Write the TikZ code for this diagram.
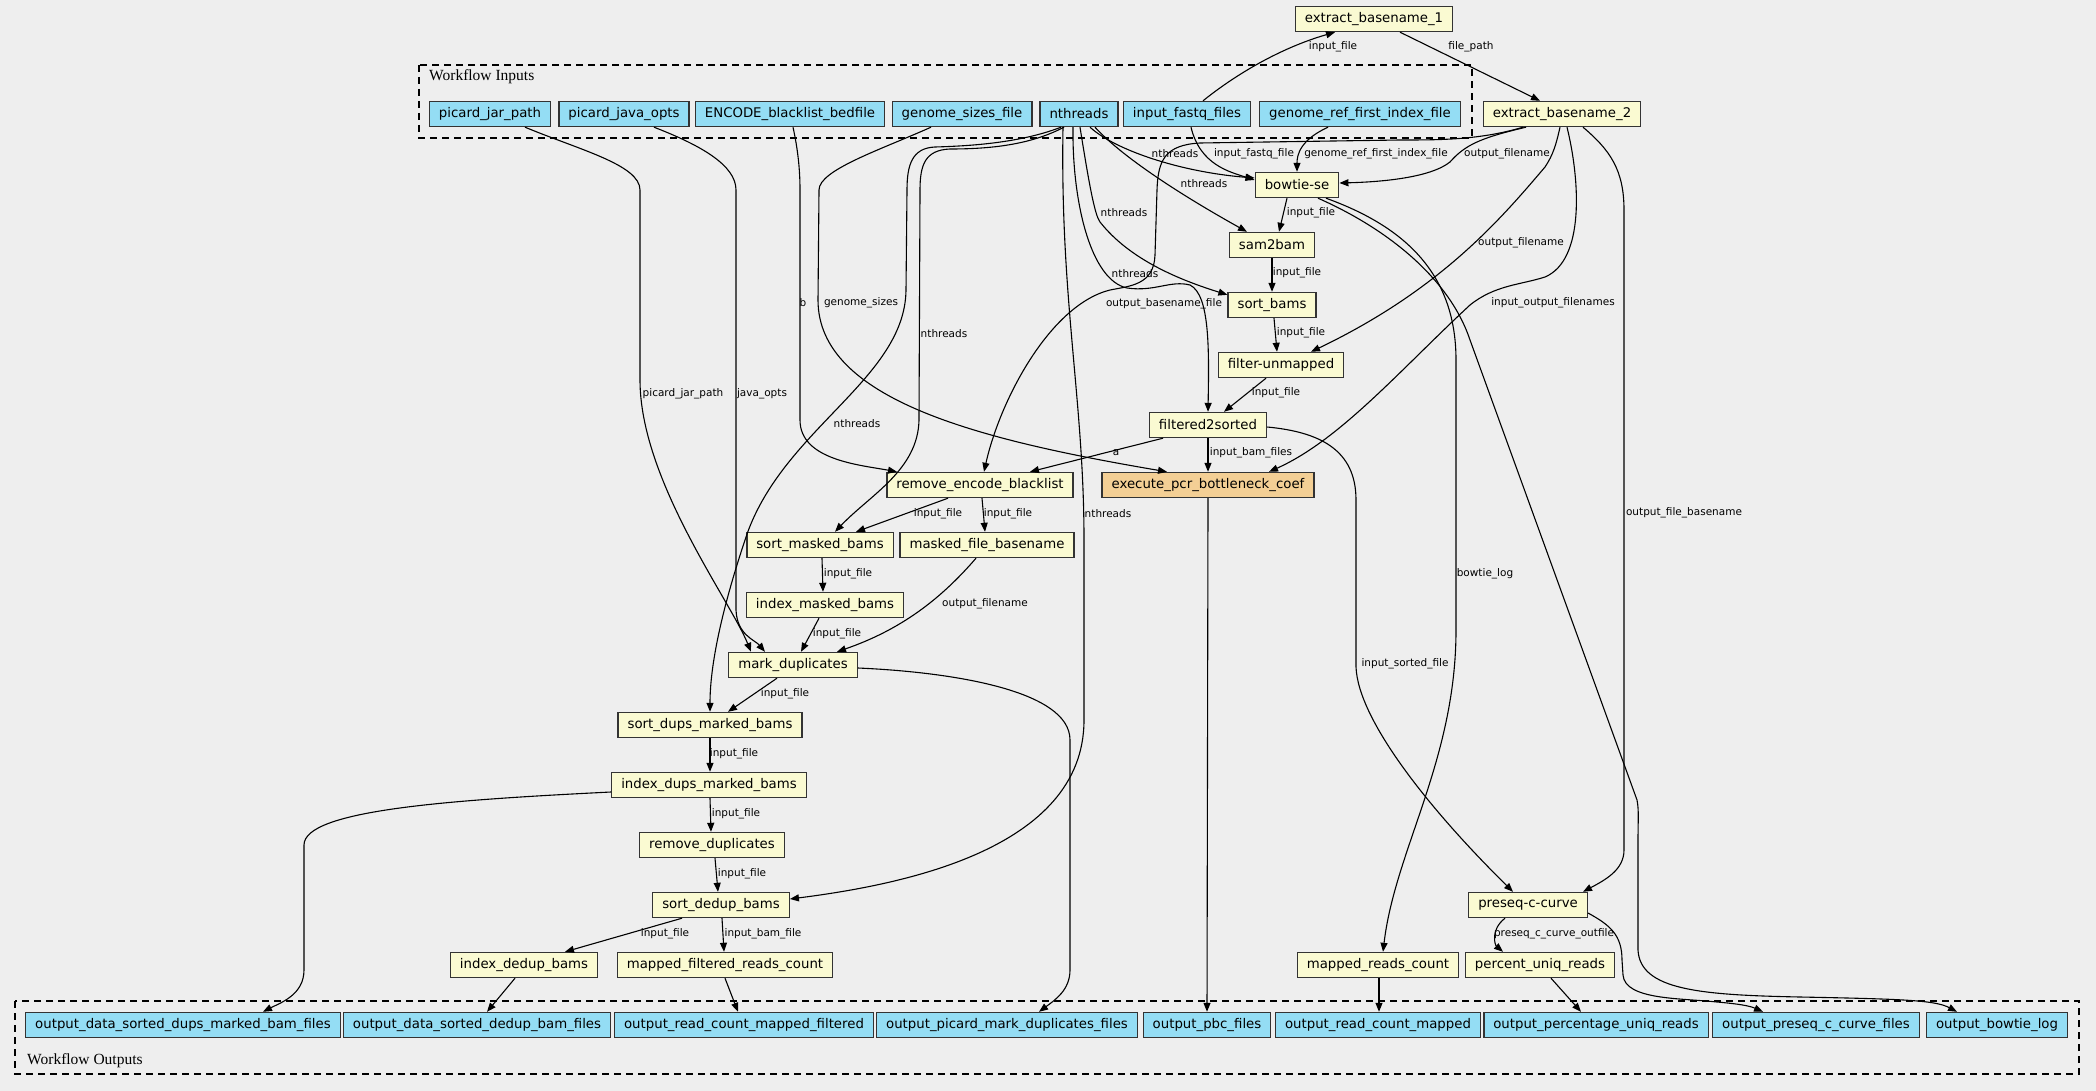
\documentclass[tikz,border=0pt]{standalone}
\usepackage{fontspec}
\usetikzlibrary{arrows.meta}
\newfontfamily\boxfont{DejaVu Sans}
\newfontfamily\clusterfont{Liberation Serif}
\definecolor{bgcol}{HTML}{EEEEEE}
\definecolor{iofill}{HTML}{94DDF4}
\definecolor{stepfill}{HTML}{FAFAD2}
\definecolor{subfill}{HTML}{F3CF95}
\definecolor{boxline}{HTML}{333333}

\begin{document}
\begin{tikzpicture}[x=1pt,y=-1pt,
  basebox/.style={draw=boxline, line width=1.4pt, minimum height=25pt, inner xsep=9.5pt, inner ysep=0pt,
    font=\boxfont\fontsize{13.3}{15}\selectfont},
  inbox/.style={basebox, fill=iofill},
  stepbox/.style={basebox, fill=stepfill},
  wfbox/.style={basebox, fill=subfill},
  lbl/.style={font=\boxfont\fontsize{10.5}{12}\selectfont, inner sep=0.5pt},
  cluster/.style={draw=black, dash pattern=on 7pt off 5pt, line width=1.2pt},
  cllbl/.style={font=\clusterfont\fontsize{15.5}{17}\selectfont, anchor=west, inner sep=0pt},
  flow/.style={-{Triangle[length=9pt,width=7pt]}, line width=1.1pt}]

\fill[bgcol] (0,0) rectangle (2096,1091);
\useasboundingbox (0,0) rectangle (2096,1091);

% clusters
\draw[cluster] (419,65) rectangle (1472,138);
\node[cllbl] (inlbl) at (429,77) {Workflow Inputs};
\draw[cluster] (15,1001) rectangle (2079,1074);
\node[cllbl] (outlbl) at (27,1061) {Workflow Outputs};

% workflow inputs
\node[inbox] (pjar) at (490,114) {picard\_jar\_path};
\node[inbox] (pjava) at (624,114) {picard\_java\_opts};
\node[inbox] (blacklist) at (790,114) {ENCODE\_blacklist\_bedfile};
\node[inbox] (gsizes) at (962,114) {genome\_sizes\_file};
\node[inbox] (nthreads) at (1079,114) {nthreads};
\node[inbox] (fastq) at (1187,114) {input\_fastq\_files};
\node[inbox] (gref) at (1360,114) {genome\_ref\_first\_index\_file};

% steps
\node[stepbox] (eb1) at (1374,19) {extract\_basename\_1};
\node[stepbox] (eb2) at (1562,114) {extract\_basename\_2};
\node[stepbox] (bowtie) at (1297,185) {bowtie-se};
\node[stepbox] (sam2bam) at (1272,245) {sam2bam};
\node[stepbox] (sortbams) at (1272,305) {sort\_bams};
\node[stepbox] (filterun) at (1281,365) {filter-unmapped};
\node[stepbox] (f2s) at (1208,425) {filtered2sorted};
\node[wfbox] (pcr) at (1208,485) {execute\_pcr\_bottleneck\_coef};
\node[stepbox] (rmbl) at (980,485) {remove\_encode\_blacklist};
\node[stepbox] (sortmasked) at (820,545) {sort\_masked\_bams};
\node[stepbox] (maskedbase) at (987,545) {masked\_file\_basename};
\node[stepbox] (idxmasked) at (825,605) {index\_masked\_bams};
\node[stepbox] (markdup) at (793,665) {mark\_duplicates};
\node[stepbox] (sortdups) at (710,725) {sort\_dups\_marked\_bams};
\node[stepbox] (idxdups) at (709,785) {index\_dups\_marked\_bams};
\node[stepbox] (rmdup) at (712,845) {remove\_duplicates};
\node[stepbox] (sortdedup) at (721,905) {sort\_dedup\_bams};
\node[stepbox] (idxdedup) at (524,965) {index\_dedup\_bams};
\node[stepbox] (mfrc) at (725,965) {mapped\_filtered\_reads\_count};
\node[stepbox] (preseq) at (1528,905) {preseq-c-curve};
\node[stepbox] (mrc) at (1378,965) {mapped\_reads\_count};
\node[stepbox] (pur) at (1540,965) {percent\_uniq\_reads};

% workflow outputs
\node[inbox] (o1) at (183,1025) {output\_data\_sorted\_dups\_marked\_bam\_files};
\node[inbox] (o2) at (477,1025) {output\_data\_sorted\_dedup\_bam\_files};
\node[inbox] (o3) at (744,1025) {output\_read\_count\_mapped\_filtered};
\node[inbox] (o4) at (1007,1025) {output\_picard\_mark\_duplicates\_files};
\node[inbox] (o5) at (1207,1025) {output\_pbc\_files};
\node[inbox] (o6) at (1378,1025) {output\_read\_count\_mapped};
\node[inbox] (o7) at (1596,1025) {output\_percentage\_uniq\_reads};
\node[inbox] (o8) at (1816,1025) {output\_preseq\_c\_curve\_files};
\node[inbox] (o9) at (1997,1025) {output\_bowtie\_log};

% top part
\draw[flow] ([xshift=16pt]fastq.north) .. controls (1235,75) and (1280,48) .. ([xshift=-39pt]eb1.south);
\node[lbl] (l1) at (1333,47) {input\_file};
\draw[flow] ([xshift=26pt]eb1.south) -- ([xshift=-22pt]eb2.north);
\node[lbl] (l2) at (1471,47) {file\_path};

% into bowtie-se
\draw[flow] ([xshift=11pt]nthreads.south) .. controls (1115,150) and (1180,172) .. ([yshift=7pt]bowtie.west);
\node[lbl] (l3) at (1175,154) {nthreads};
\draw[flow] ([xshift=4pt]fastq.south) .. controls (1200,165) and (1230,172) .. ([yshift=5pt]bowtie.west);
\node[lbl] (l4) at (1254,154) {input\_fastq\_file};
\draw[flow] ([xshift=-32pt]gref.south) .. controls (1300,140) and (1297,155) .. (bowtie.north);
\node[lbl] (l5) at (1376,154) {genome\_ref\_first\_index\_file};
\draw[flow] ([xshift=-36pt]eb2.south) .. controls (1480,138) and (1465,145) .. (1450,162)
  .. controls (1430,178) and (1380,182) .. ([yshift=2pt]bowtie.east);
\node[lbl] (l6) at (1507,154) {output\_filename};

% bam chain
\draw[flow] ([xshift=16pt]nthreads.south) .. controls (1125,160) and (1190,200) .. ([xshift=-25pt]sam2bam.north);
\node[lbl] (l7) at (1204,184) {nthreads};
\draw[flow] ([xshift=-10pt]bowtie.south) -- ([xshift=7pt]sam2bam.north);
\node[lbl] (l8) at (1311,213) {input\_file};
\draw[flow] ([xshift=1pt]nthreads.south) .. controls (1090,190) and (1095,215) .. (1100,222)
  .. controls (1130,260) and (1180,280) .. ([yshift=-3pt]sortbams.north west);
\node[lbl] (l9) at (1124,213) {nthreads};
\draw[flow] (sam2bam.south) -- (sortbams.north);
\node[lbl] (l10) at (1297,273) {input\_file};
\draw[flow] ([xshift=-6pt]nthreads.south) .. controls (1072,200) and (1090,280) .. (1127,288)
  .. controls (1155,292) and (1170,280) .. (1190,285) .. controls (1210,295) and (1209,350) .. (f2s.north);
\node[lbl] (l11) at (1135,274) {nthreads};
\draw[flow] ([xshift=-2pt]eb2.south) .. controls (1556,145) and (1553,155) .. (1545,167)
  .. controls (1500,220) and (1440,290) .. ([xshift=30pt]filterun.north);
\node[lbl] (l12) at (1521,243) {output\_filename};
\draw[flow] ([xshift=2pt]sortbams.south) -- ([xshift=-4pt]filterun.north);
\node[lbl] (l13) at (1301,333) {input\_file};
\draw[flow] ([xshift=-15pt]filterun.south) -- ([xshift=16pt]f2s.north);
\node[lbl] (l14) at (1276,393) {input\_file};

% long ones from extract_basename_2
\draw[flow] ([xshift=-39pt]eb2.south) .. controls (1480,140) and (1440,140) .. (1400,140) -- (1200,143)
  .. controls (1165,145) and (1158,160) .. (1157,190) -- (1155,255)
  .. controls (1154,285) and (1130,286) .. (1110,290) .. controls (1050,305) and (1000,400) .. ([xshift=4pt]rmbl.north);
\node[lbl] (l15) at (1164,304) {output\_basename\_file};
\draw[flow] ([xshift=5pt]eb2.south) .. controls (1580,180) and (1585,260) .. (1545,277)
  .. controls (1520,285) and (1495,285) .. (1470,305) .. controls (1400,370) and (1340,440) .. ([xshift=61pt]pcr.north);
\node[lbl] (l16) at (1553,303) {input\_output\_filenames};
\draw[flow] ([xshift=21pt]eb2.south) .. controls (1610,150) and (1624,170) .. (1624,210) -- (1624,850)
  .. controls (1624,870) and (1605,880) .. ([xshift=55pt]preseq.north);
\node[lbl] (l17) at (1684,513) {output\_file\_basename};

% from bowtie-se down
\draw[flow] ([xshift=29pt]bowtie.south) .. controls (1400,225) and (1456,270) .. (1456,360) -- (1456,630)
  .. controls (1456,760) and (1395,850) .. ([xshift=5pt]mrc.north);
\node[lbl] (l18) at (1485,574) {bowtie\_log};
\draw[flow] ([xshift=21pt]bowtie.south) .. controls (1390,230) and (1450,280) .. (1470,340) -- (1637,800)
  .. controls (1639,810) and (1638,820) .. (1638,840) -- (1638,950)
  .. controls (1640,990) and (1700,995) .. (1800,997) .. controls (1900,999) and (1935,1000) .. ([xshift=-40pt]o9.north);

% filtered2sorted
\draw[flow] (f2s.south) -- (pcr.north);
\node[lbl] (l20) at (1251,453) {input\_bam\_files};
\draw[flow] ([xshift=-45pt]f2s.south) -- ([xshift=50pt]rmbl.north);
\node[lbl] (l21) at (1116,453) {a};
\draw[flow] ([yshift=-2pt]f2s.east) .. controls (1320,432) and (1356,450) .. (1356,500) -- (1356,667)
  .. controls (1358,720) and (1430,810) .. ([xshift=-15pt]preseq.north);
\node[lbl] (l22) at (1405,664) {input\_sorted\_file};

% left inputs
\draw[flow] ([xshift=-31pt]gsizes.south) .. controls (880,150) and (819,170) .. (819,190) -- (818,300)
  .. controls (818,400) and (980,440) .. ([xshift=-41pt]pcr.north);
\node[lbl] (l23) at (861,303) {genome\_sizes};
\draw[flow] ([xshift=3pt]blacklist.south) .. controls (798,150) and (800,170) .. (800,190) -- (800,420)
  .. controls (800,460) and (860,465) .. ([xshift=-83pt]rmbl.north);
\node[lbl] (l24) at (803,303) {b};
\draw[flow] ([xshift=-15pt]nthreads.south) .. controls (1030,145) and (990,149) .. (950,149)
  .. controls (925,150) and (920,165) .. (920,190) -- (919,420)
  .. controls (918,470) and (870,495) .. ([xshift=15pt]sortmasked.north);
\node[lbl] (l25) at (944,334) {nthreads};
\draw[flow] ([xshift=-18pt]nthreads.south) .. controls (1020,143) and (970,146) .. (935,147)
  .. controls (912,148) and (907,165) .. (907,190) -- (906,290)
  .. controls (905,380) and (780,430) .. (745,540) .. controls (725,600) and (710,660) .. (sortdups.north);
\node[lbl] (l26) at (857,424) {nthreads};
\draw[flow] ([xshift=-16pt]nthreads.south) .. controls (1060,300) and (1084,400) .. (1084,540) -- (1084,720)
  .. controls (1084,850) and (900,885) .. ([yshift=6pt]sortdedup.east);
\node[lbl] (l27) at (1108,514) {nthreads};
\draw[flow] ([xshift=35pt]pjar.south) .. controls (580,150) and (640,165) .. (640,190) -- (640,380)
  .. controls (640,480) and (730,600) .. ([xshift=-42pt]markdup.north);
\node[lbl] (l28) at (683,394) {picard\_jar\_path};
\draw[flow] ([xshift=30pt]pjava.south) .. controls (700,145) and (736,165) .. (736,190) -- (736,610)
  .. controls (737,635) and (755,640) .. ([xshift=-28pt]markdup.north);
\node[lbl] (l29) at (762,394) {java\_opts};

% masking and duplicates
\draw[flow] ([xshift=-32pt]rmbl.south) -- ([xshift=36pt]sortmasked.north);
\node[lbl] (l30) at (938,514) {input\_file};
\draw[flow] ([xshift=2pt]rmbl.south) -- ([xshift=-2pt]maskedbase.north);
\node[lbl] (l31) at (1008,514) {input\_file};
\draw[flow] ([xshift=2pt]sortmasked.south) -- ([xshift=-2pt]idxmasked.north);
\node[lbl] (l32) at (848,574) {input\_file};
\draw[flow] ([xshift=-6pt]idxmasked.south) -- ([xshift=8pt]markdup.north);
\node[lbl] (l33) at (837,634) {input\_file};
\draw[flow] ([xshift=-11pt]maskedbase.south) .. controls (940,600) and (900,630) .. ([xshift=44pt]markdup.north);
\node[lbl] (l34) at (985,604) {output\_filename};
\draw[flow] ([xshift=-16pt]markdup.south) -- ([xshift=18pt]sortdups.north);
\node[lbl] (l35) at (785,694) {input\_file};
\draw[flow] (sortdups.south) -- ([xshift=1pt]idxdups.north);
\node[lbl] (l36) at (734,754) {input\_file};
\draw[flow] ([xshift=1pt]idxdups.south) -- ([xshift=-1pt]rmdup.north);
\node[lbl] (l37) at (736,814) {input\_file};
\draw[flow] ([xshift=3pt]rmdup.south) -- ([xshift=-3pt]sortdedup.north);
\node[lbl] (l38) at (742,874) {input\_file};
\draw[flow] ([xshift=-39pt]sortdedup.south) -- ([xshift=41pt]idxdedup.north);
\node[lbl] (l39) at (665,934) {input\_file};
\draw[flow] ([xshift=1pt]sortdedup.south) -- ([xshift=-1pt]mfrc.north);
\node[lbl] (l40) at (763,934) {input\_bam\_file};
\draw[flow] ([xshift=-23pt]preseq.south) .. controls (1490,930) and (1495,945) .. ([xshift=-37pt]pur.north);
\node[lbl] (l49) at (1554,934) {preseq\_c\_curve\_outfile};

% into outputs
\draw[flow] ([yshift=-7pt]idxdups.west) .. controls (450,800) and (304,810) .. (304,845) -- (304,970)
  .. controls (304,995) and (280,1003) .. ([xshift=80pt]o1.north);
\draw[flow] ([xshift=-9pt]idxdedup.south) -- ([xshift=10pt]o2.north);
\draw[flow] (mfrc.south) -- ([xshift=-6pt]o3.north);
\draw[flow] ([yshift=-3pt]markdup.east) .. controls (950,672) and (1070,690) .. (1070,740) -- (1070,970)
  .. controls (1070,990) and (1055,1000) .. ([xshift=32pt]o4.north);
\draw[flow] (pcr.south) -- (o5.north);
\draw[flow] ([xshift=1pt]mrc.south) -- ([xshift=1pt]o6.north);
\draw[flow] ([xshift=11pt]pur.south) -- ([xshift=-15pt]o7.north);
\draw[flow] ([yshift=-8pt]preseq.east) .. controls (1610,925) and (1622,935) .. (1622,960) -- (1623,975)
  .. controls (1625,1000) and (1680,998) .. (1717,1002) .. controls (1740,1004) and (1750,1006) .. ([xshift=-53pt]o8.north);

\end{tikzpicture}
\end{document}
